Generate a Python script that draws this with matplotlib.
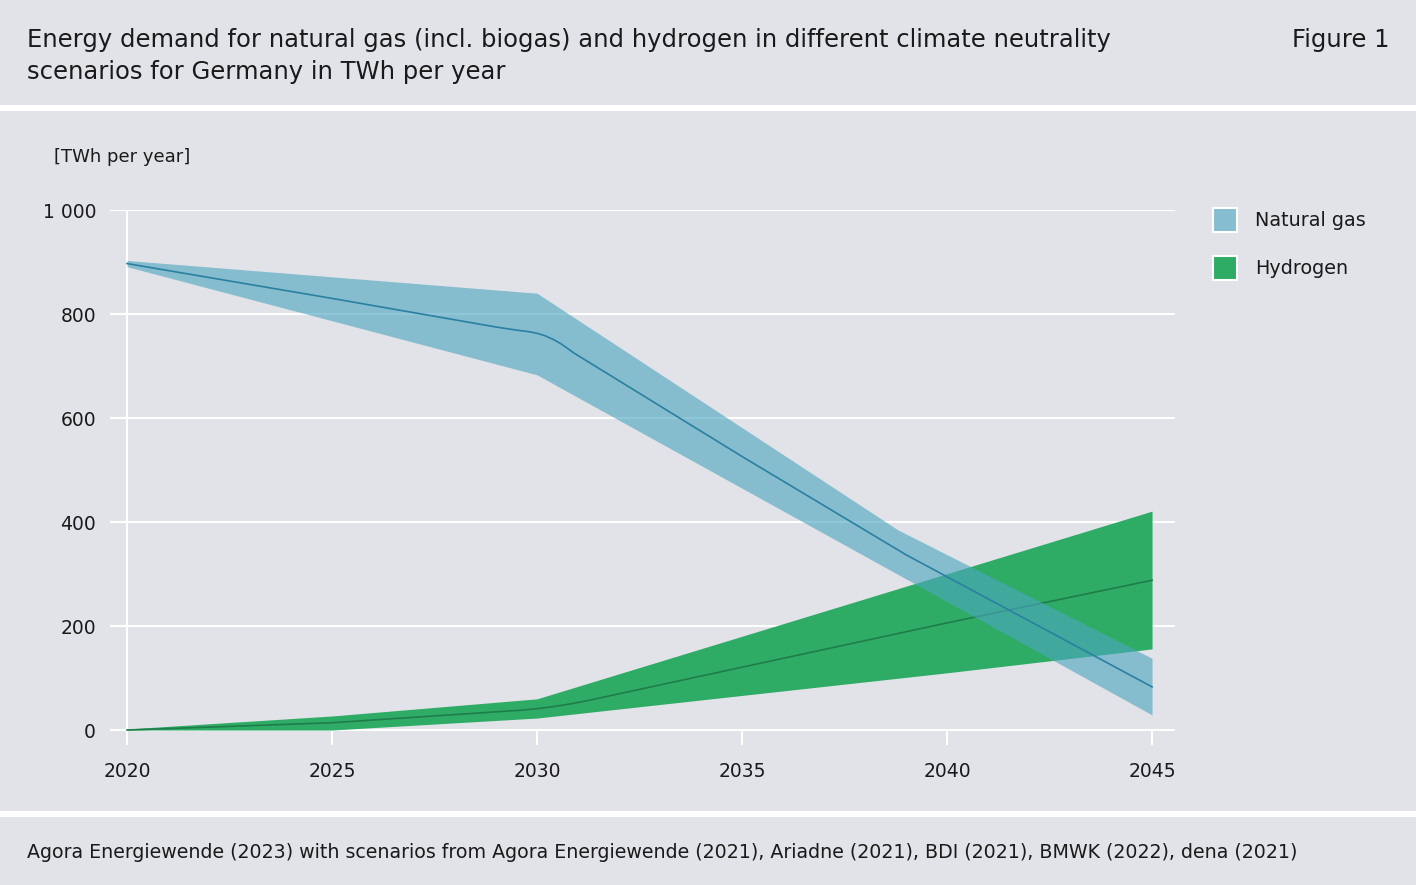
import numpy as np
import matplotlib.pyplot as plt
from matplotlib.patches import Rectangle

plt.rcParams['font.family'] = ['DejaVu Sans']

# natural gas: range of scenarios and mean line
gas_years = [2020, 2030, 2038.8, 2045]
gas_upper = [903, 840, 385, 138]
gas_lower_years = [2020, 2030, 2045]
gas_lower = [891, 683, 29]
gas_mean_years = [2020, 2025, 2029, 2029.5, 2029.8, 2030, 2030.2, 2030.4, 2030.6, 2030.9, 2035, 2039, 2045]
gas_mean = [897, 830, 775, 769, 766, 763, 758, 751, 742, 725, 526, 337, 83]

# hydrogen
h2_years = [2020, 2025, 2030, 2045]
h2_upper = [2, 27, 60, 421]
h2_lower_years = [2020, 2025, 2030, 2040, 2045]
h2_lower = [0, 0, 23, 110, 156]
h2_mean_years = [2020, 2025, 2029, 2029.6, 2030, 2030.4, 2030.8, 2031.2, 2040, 2045]
h2_mean = [0, 14, 35, 38, 41, 45, 50, 56, 206, 288]

x_ticks = [2020, 2025, 2030, 2035, 2040, 2045]
y_ticks = [0, 200, 400, 600, 800, 1000]
y_labels = ['0', '200', '400', '600', '800', '1 000']

series = ['Natural gas', 'Hydrogen']

bg = '#e2e3e8'
gas_col = '#4da6c0'
gas_legend = '#86bdd0'
h2_col = '#2eac66'
txt = '#1a1a1a'

fig = plt.figure(figsize=(14.16, 8.85), dpi=100, facecolor=bg)
ax = fig.add_axes([110 / 1416, 140 / 885, 1065 / 1416, 535 / 885])
ax.set_facecolor(bg)
xmin, xmax = 2019.585, 2045.56
ymin, ymax = -28.8, 1000
ax.set_xlim(xmin, xmax)
ax.set_ylim(ymin, ymax)
for s in ax.spines.values():
    s.set_visible(False)

# grid
ax.hlines(y_ticks, xmin, xmax, colors='white', lw=1.5, zorder=1)
ax.vlines(x_ticks, ymin, 0, colors='white', lw=1.5, zorder=1)
ax.vlines(2020, 0, 1000, colors='white', lw=1.5, zorder=1)

# hydrogen band
xs = np.linspace(2020, 2045, 501)
hu = np.interp(xs, h2_years, h2_upper)
hl = np.interp(xs, h2_lower_years, h2_lower)
ax.fill_between(xs, hl, hu, color=h2_col, lw=0, zorder=2)
ax.plot(h2_mean_years, h2_mean, color='#1f7d4a', lw=1.2, zorder=3)

# natural gas band
gu = np.interp(xs, gas_years, gas_upper)
gl = np.interp(xs, gas_lower_years, gas_lower)
ax.fill_between(xs, gl, gu, color=gas_col, alpha=0.62, lw=0, zorder=4)
ax.plot(gas_mean_years, gas_mean, color='#2a80a0', lw=1.2, zorder=5)

ax.set_xticks(x_ticks)
ax.set_xticklabels([str(x) for x in x_ticks])
ax.set_yticks(y_ticks)
ax.set_yticklabels(y_labels)
ax.tick_params(length=0, labelsize=13.5, colors=txt)
ax.tick_params(axis='x', pad=12)
ax.tick_params(axis='y', pad=10)

# header, labels, footer
fig.text(27 / 1416, 1 - 40 / 885, 'Energy demand for natural gas (incl. biogas) and hydrogen in different climate neutrality',
         fontsize=17.5, va='center', ha='left', color=txt)
fig.text(27 / 1416, 1 - 72 / 885, 'scenarios for Germany in TWh per year',
         fontsize=17.5, va='center', ha='left', color=txt)
fig.text(1390 / 1416, 1 - 40 / 885, 'Figure 1', fontsize=17.5, ha='right', va='center', color=txt)
fig.text(54 / 1416, 1 - 157 / 885, '[TWh per year]', fontsize=13, ha='left', va='center', color=txt)
fig.text(27 / 1416, 1 - 852 / 885,
         'Agora Energiewende (2023) with scenarios from Agora Energiewende (2021), Ariadne (2021), BDI (2021), BMWK (2022), dena (2021)',
         fontsize=13.7, ha='left', va='center', color=txt)

# white separator bands
fig.add_artist(Rectangle((0, 1 - 111 / 885), 1, 6 / 885, transform=fig.transFigure, color='white', lw=0))
fig.add_artist(Rectangle((0, 1 - 817 / 885), 1, 6 / 885, transform=fig.transFigure, color='white', lw=0))

# legend
for i, (name, col) in enumerate(zip(series, [gas_legend, h2_col])):
    yc = 220 + 48 * i
    fig.add_artist(Rectangle((1213 / 1416, 1 - (yc + 12) / 885), 24 / 1416, 24 / 885,
                             transform=fig.transFigure, facecolor=col, edgecolor='white', lw=1.5))
    fig.text(1255 / 1416, 1 - yc / 885, name, fontsize=13.8, ha='left', va='center', color=txt)

fig.savefig('out.png', dpi=100, facecolor=bg)
